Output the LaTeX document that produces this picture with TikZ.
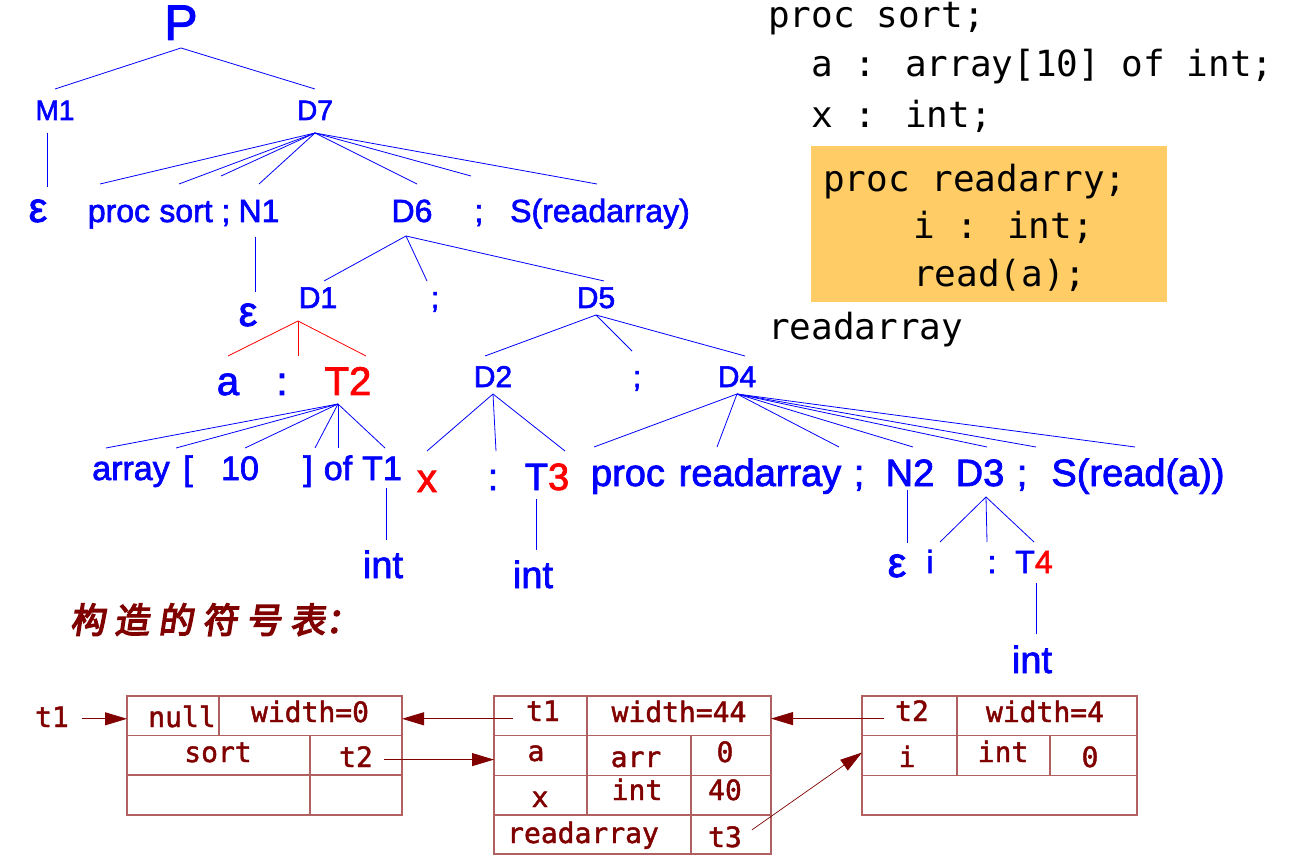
\documentclass[tikz,border=0pt]{standalone}
\usepackage{fontspec}
\setmainfont[FakeBold=2]{Liberation Sans}
\newfontfamily\monof{DejaVu Sans Mono}
\newfontfamily\tabf[FakeBold=1.6]{DejaVu Sans Mono}
\newfontfamily\cjkf[FakeSlant=0.15,FakeBold=4]{Noto Sans CJK SC}
\usetikzlibrary{arrows.meta}
\definecolor{tb}{RGB}{0,0,255}
\definecolor{tr}{RGB}{255,0,0}
\definecolor{dr}{RGB}{128,0,0}
\definecolor{drl}{RGB}{176,96,96}
\definecolor{org}{RGB}{255,204,102}
\tikzset{
  tx/.style 2 args={anchor=base, inner sep=0pt, outer sep=0pt, text=tb,
     font=\fontsize{#1pt}{#1pt}\selectfont, text height=#2pt, text depth=0pt},
  dp/.style={text depth=#1pt},
  red/.style={text=tr},
  tl/.style={draw=tb, line width=0.8pt},
  tlr/.style={draw=tr, line width=0.8pt},
  code/.style={anchor=base west, inner sep=0pt, text=black,
     font=\monof\fontsize{36pt}{36pt}\selectfont},
  tt/.style={anchor=base, inner sep=0pt, text=dr,
     font=\tabf\fontsize{28pt}{28pt}\selectfont},
  tbl/.style={draw=drl, line width=1.3pt, inner sep=0pt, outer sep=0pt},
  tline/.style={draw=drl, line width=1.3pt},
  arr/.style={draw=dr, line width=0.9pt, -{Triangle[length=22pt,width=13pt]}},
}
\begin{document}
\begin{tikzpicture}[x=1pt,y=-1pt]
\useasboundingbox (0,0) rectangle (1306,858);

% ---------------- parse tree ----------------
\node[tx={50}{36}, dp=8] (P) at (181,40) {P};
\node[tx={28}{31}, dp=13] (M1) at (55,120) {M1};
\node[tx={28}{31}, dp=13] (D7) at (315,120) {D7};

\node[tx={42}{35}] (e1) at (38,222) {ε};
\node[tx={32}{38}] (proc1) at (119,222) {proc};
\node[tx={32}{38}] (sort) at (186,222) {sort};
\node[tx={32}{46}] (sc1) at (226,222) {;};
\node[tx={32}{38}, dp=15] (N1) at (259,222) {N1};
\node[tx={32}{38}, dp=14] (D6) at (412,222) {D6};
\node[tx={32}{46}] (sc2) at (479,222) {;};
\node[tx={32}{38}] (S1) at (600,222) {S(readarray)};

\node[tx={42}{34}] (e2) at (248,326) {ε};
\node[tx={30}{27}, dp=13] (D1) at (318,308) {D1};
\node[tx={30}{27}] (sc3) at (435,308) {;};
\node[tx={30}{27}, dp=7] (D5) at (596,308) {D5};

\node[tx={40}{39}] (a) at (228,395) {a};
\node[tx={40}{39}] (c1) at (282,395) {:};
\node[tx={40}{39}, dp=9, red] (T2) at (348,395) {T2};
\node[tx={30}{31}, dp=7] (D2) at (493,387) {D2};
\node[tx={30}{36}] (sc4) at (637,387) {;};
\node[tx={30}{31}, dp=7] (D4) at (737,387) {D4};

\node[tx={34}{32}] (arr) at (131,480) {array};
\node[tx={34}{32}] (lb) at (188,480) {[};
\node[tx={34}{32}] (ten) at (240,480) {10};
\node[tx={34}{32}] (rb) at (308,480) {]};
\node[tx={34}{32}] (of) at (338,480) {of};
\node[tx={34}{32}, dp=8] (T1) at (382,480) {T1};
\node[tx={40}{41}, red] (x) at (427,492) {x};
\node[tx={38}{39}] (c2) at (493,490) {:};
\node[tx={38}{39}, dp=9] (T3) at (547,490) {T\textcolor{tr}{3}};

\node[tx={38}{39}] (proc2) at (628,486) {proc};
\node[tx={38}{39}] (rdarr) at (760,486) {readarray};
\node[tx={38}{39}] (sc5) at (859,486) {;};
\node[tx={38}{39}, dp=4] (N2) at (910,486) {N2};
\node[tx={38}{39}, dp=11] (D3) at (980,486) {D3};
\node[tx={38}{39}] (sc6) at (1022,486) {;};
\node[tx={38}{39}] (S2) at (1138,486) {S(read(a))};

\node[tx={38}{38}] (int1) at (383,578) {int};
\node[tx={38}{38}] (int2) at (533,588) {int};
\node[tx={42}{34}] (e3) at (897,577) {ε};
\node[tx={32}{31}] (i) at (930,573) {i};
\node[tx={32}{31}] (c3) at (992,573) {:};
\node[tx={32}{31}, dp=10] (T4) at (1034,573) {T\textcolor{tr}{4}};
\node[tx={38}{39}] (int3) at (1032,673) {int};

% tree edges
\draw[tl] (P.south) -- (M1.north);
\draw[tl] (P.south) -- (D7.north);
\draw[tl] ([xshift=-8pt]M1.south) -- ([xshift=9pt]e1.north);
\foreach \n/\s in {proc1/-19, sort/-7, sc1/-5, N1/0, D6/5, sc2/-8, S1/-3}
  \draw[tl] (D7.south) -- ([xshift=\s pt]\n.north);
\draw[tl] ([xshift=-4pt]N1.south) -- ([xshift=-4pt]N1.south |- e2.north);
\foreach \n/\s in {D1/6, sc3/-8, D5/8}
  \draw[tl] ([xshift=-6pt]D6.south) -- ([xshift=\s pt]\n.north);
\foreach \n/\s in {a/0, c1/16, T2/18}
  \draw[tlr] ([xshift=-20pt]D1.south) -- ([xshift=\s pt]\n.north);
\foreach \n/\s in {D2/-8, sc4/-5, D4/8}
  \draw[tl] (D5.south) -- ([xshift=\s pt]\n.north);
\foreach \n/\s in {arr/-25, lb/-12, ten/5, rb/7, of/0, T1/3}
  \draw[tl] ([xshift=-10pt]T2.south) -- ([xshift=\s pt]\n.north);
\draw[tl] ([xshift=4pt]T1.south) -- ([xshift=4pt]T1.south |- int1.north);
\foreach \n/\s in {x/0, c2/3, T3/18}
  \draw[tl] (D2.south) -- ([xshift=\s pt]\n.north);
\draw[tl] ([xshift=3pt]int2.north |- T3.south) -- ([xshift=3pt]int2.north);
\foreach \n/\s in {proc2/-34, rdarr/-43, sc5/-20, N2/3, D3/7, sc6/14, S2/-3}
  \draw[tl] (D4.south) -- ([xshift=\s pt]\n.north);
\draw[tl] ([xshift=-3pt]N2.south) -- ([xshift=-3pt]N2.south |- e3.north);
\foreach \n/\s in {i/10, c3/-5, T4/0}
  \draw[tl] ([xshift=6pt]D3.south) -- ([xshift=\s pt]\n.north);
\draw[tl] ([xshift=2pt]T4.south) -- ([xshift=2pt]T4.south |- int3.north);

% ---------------- source code ----------------
\node[code] (l1) at (768,28) {proc sort;};
\node[code] (l2) at (811,77) {a : array[10] of int;};
\node[code] (l3) at (811,128) {x : int;};
\node[fill=org, inner sep=0pt, minimum width=356pt, minimum height=156pt] (obox) at (989,224) {};
\node[code] (l4) at (823,192) {proc readarry;};
\node[code] (l5) at (913,239) {i : int;};
\node[code] (l6) at (913,287) {read(a);};
\node[code] (l7) at (768,340) {readarray};

% ---------------- symbol tables ----------------
\node[anchor=base west, inner sep=0pt, text=dr, font=\cjkf\fontsize{35pt}{35pt}\selectfont] (title) at (70,633)
  {构\hspace{9pt}造\hspace{9pt}的\hspace{9pt}符\hspace{9pt}号\hspace{9pt}表：};

\node[tbl, minimum width=275pt, minimum height=119pt] (tab1) at (264.5,755.5) {};
\draw[tline] (127,735.5) -- (402,735.5);
\draw[tline] (127,775) -- (402,775);
\draw[tline] (219,696) -- (219,735.5);
\draw[tline] (310,735.5) -- (310,815);

\node[tbl, minimum width=277pt, minimum height=158pt] (tab2) at (632.5,775) {};
\draw[tline] (494,735.5) -- (771,735.5);
\draw[tline] (494,775.5) -- (771,775.5);
\draw[tline] (494,815) -- (771,815);
\draw[tline] (587,696) -- (587,815);
\draw[tline] (691,735.5) -- (691,854);

\node[tbl, minimum width=275pt, minimum height=119pt] (tab3) at (999.5,755.5) {};
\draw[tline] (862,735.5) -- (1137,735.5);
\draw[tline] (862,775.5) -- (1137,775.5);
\draw[tline] (957,696) -- (957,775.5);
\draw[tline] (1050,735.5) -- (1050,775.5);

\node[tt] (t1lbl) at (52,727) {t1};
\node[tt] (null) at (182,727) {null};
\node[tt] (w0) at (310,722) {width=0};
\node[tt] (srt) at (218,762) {sort};
\node[tt] (t2a) at (356,767) {t2};

\node[tt] (t1b) at (543,721) {t1};
\node[tt] (w44) at (679,722) {width=44};
\node[tt] (va) at (536,761) {a};
\node[tt] (varr) at (636,767) {arr};
\node[tt] (z1) at (725,762) {0};
\node[tt] (vx) at (540,807) {x};
\node[tt] (vint) at (637,800) {int};
\node[tt] (f40) at (725,800) {40};
\node[tt] (vrd) at (583,843) {readarray};
\node[tt] (t3) at (725,847) {t3};

\node[tt] (t2b) at (912,721) {t2};
\node[tt] (w4) at (1045,722) {width=4};
\node[tt] (vi) at (907,767) {i};
\node[tt] (vint2) at (1003,762) {int};
\node[tt] (z2) at (1090,767) {0};

% arrows
\draw[arr, shorten <=13pt] ([yshift=-2pt]t1lbl.east) -- ([yshift=-2pt]t1lbl.east -| tab1.west);
\draw[arr, shorten <=13pt] ([yshift=-8pt]t1b.west) -- ([yshift=-8pt]t1b.west -| tab1.east);
\draw[arr, shorten <=11pt] ([yshift=-3pt]t2a.east) -- ([yshift=-3pt]t2a.east -| tab2.west);
\draw[arr, shorten <=11pt] ([yshift=-8pt]t2b.west) -- ([yshift=-8pt]t2b.west -| tab2.east);
\draw[arr, line width=0.7pt, shorten <=12pt] (t3.east) -- ([yshift=3pt]tab3.west);
\end{tikzpicture}
\end{document}
